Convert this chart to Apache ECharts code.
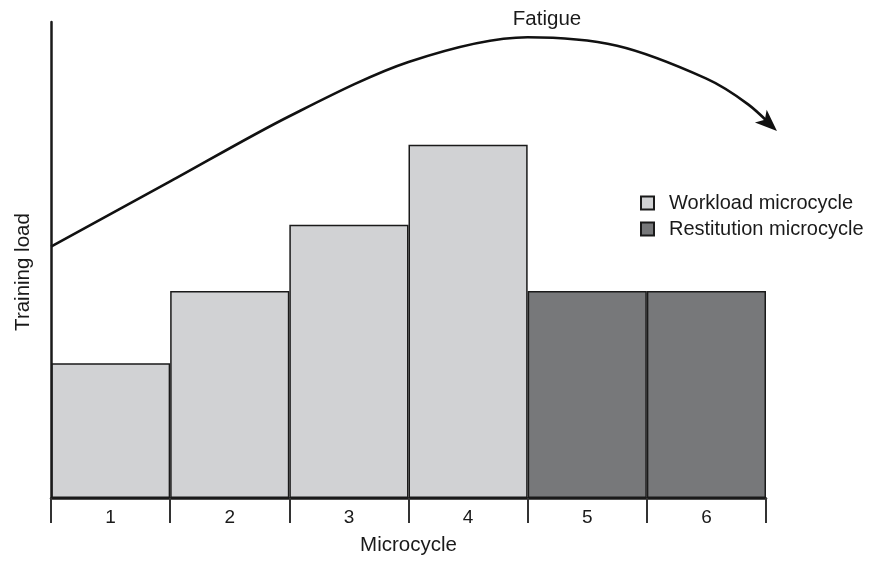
<!DOCTYPE html>
<html>
<head>
<meta charset="utf-8">
<script src="https://cdn.jsdelivr.net/npm/echarts@6/dist/echarts.min.js"></script>
<style>html,body{margin:0;padding:0;background:#fff}#c{width:875px;height:561px}</style>
</head>
<body>
<div id="c"></div>
<script>
const categories = ['1', '2', '3', '4', '5', '6'];
const workload = [28.3, 43.5, 57.4, 74.2, '-', '-'];
const restitution = ['-', '-', '-', '-', 43.5, 43.5];
const fatigueX = [0, 1.0, 2.0, 3.0, 4.0, 4.75, 5.5, 5.85, 6.092];
const fatigueY = [52.8, 66.5, 80.2, 91.6, 96.8, 95.0, 88.1, 82.7, 77.1];

const FONT = '"Liberation Sans", Arial, Helvetica, sans-serif';
const chart = echarts.init(document.getElementById('c'), null, {renderer: 'canvas'});

function fatigueData(rot) {
  return fatigueX.map((x, i) => {
    const last = i === fatigueX.length - 1;
    return {
      value: [x, fatigueY[i]],
      symbol: last ? 'arrow' : 'none',
      symbolSize: last ? [13, 22] : 0,
      symbolRotate: last ? rot : 0,
      itemStyle: {color: '#111'}
    };
  });
}

const option = {
  animation: false,
  backgroundColor: '#fff',
  textStyle: {fontFamily: FONT},
  grid: {left: 51, right: 109, top: 22, bottom: 58, containLabel: false},
  legend: {
    orient: 'vertical',
    left: 635, top: 188,
    itemWidth: 13, itemHeight: 13, itemGap: 6,
    icon: 'rect',
    data: ['Workload microcycle', 'Restitution microcycle'],
    textStyle: {fontSize: 20, lineHeight: 20, color: '#1a1a1a', fontFamily: FONT, padding: [0, 0, 0, 10]}
  },
  xAxis: [{
    type: 'category',
    data: categories,
    boundaryGap: true,
    name: 'Microcycle',
    nameLocation: 'middle',
    nameGap: 37,
    nameTextStyle: {fontSize: 20.5, color: '#1a1a1a', fontFamily: FONT},
    axisLine: {lineStyle: {color: '#1a1a1a', width: 2.5}},
    axisTick: {show: true, length: 25, lineStyle: {color: '#333', width: 2}},
    axisLabel: {fontSize: 19, color: '#1a1a1a', margin: 10, fontFamily: FONT},
    z: 10
  }, {
    type: 'value', min: 0, max: 6, show: false
  }],
  yAxis: {
    type: 'value', min: 0, max: 100,
    axisLine: {show: true, lineStyle: {color: '#1a1a1a', width: 2.5}},
    axisTick: {show: false},
    axisLabel: {show: false},
    splitLine: {show: false},
    z: 10
  },
  graphic: [{
    type: 'text', x: 547, y: 19,
    style: {text: 'Fatigue', fill: '#1a1a1a', font: '20.5px ' + FONT, textAlign: 'center', textVerticalAlign: 'middle'}
  }, {
    type: 'text', x: 23, y: 272, rotation: Math.PI / 2,
    style: {text: 'Training load', fill: '#1a1a1a', font: '20.5px ' + FONT, textAlign: 'center', textVerticalAlign: 'middle'}
  }],
  series: [{
    name: 'Workload microcycle', type: 'bar', data: workload,
    barWidth: '100%', barGap: '-100%', barCategoryGap: '0%',
    itemStyle: {color: '#d1d2d4', borderColor: '#1a1a1a', borderWidth: 1.5}
  }, {
    name: 'Restitution microcycle', type: 'bar', data: restitution,
    barWidth: '100%', barGap: '-100%', barCategoryGap: '0%',
    itemStyle: {color: '#77787a', borderColor: '#1a1a1a', borderWidth: 1.5}
  }, {
    name: 'Fatigue', type: 'line', xAxisIndex: 1,
    data: fatigueData(-131), smooth: 0.3, clip: false,
    showSymbol: true,
    lineStyle: {color: '#111', width: 2.6},
    z: 5
  }]
};
chart.setOption(option);

// orient the arrow along the final direction of the curve
const n = fatigueX.length;
const p1 = chart.convertToPixel({xAxisIndex: 1, yAxisIndex: 0}, [fatigueX[n - 2], fatigueY[n - 2]]);
const p2 = chart.convertToPixel({xAxisIndex: 1, yAxisIndex: 0}, [fatigueX[n - 1], fatigueY[n - 1]]);
const ang = Math.atan2(p2[0] - p1[0], -(p2[1] - p1[1])) * 180 / Math.PI;
chart.setOption({series: [{}, {}, {data: fatigueData(-ang)}]});
</script>
</body>
</html>
